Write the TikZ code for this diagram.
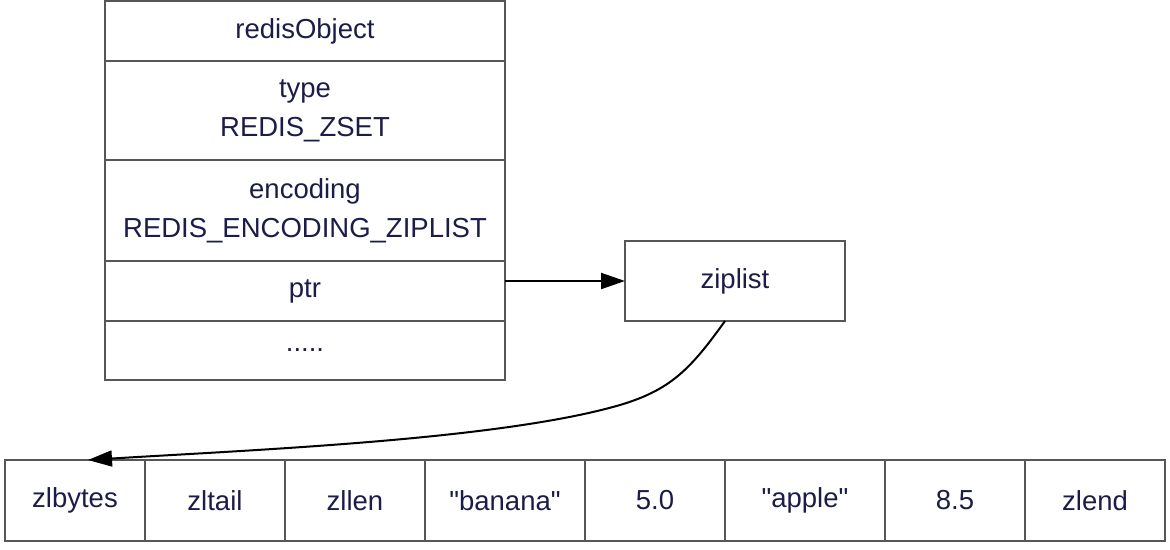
\documentclass[tikz,border=0pt]{standalone}
\usepackage{fontspec}
\setmainfont{Liberation Sans}[Ligatures=TeXOff]
\usetikzlibrary{arrows.meta}
\definecolor{txt}{HTML}{1C1C4A}
\definecolor{ln}{HTML}{565656}
\begin{document}
\begin{tikzpicture}[x=0.5pt,y=-0.5pt,
  cell/.style={draw=ln,line width=1pt,fill=white,text=txt,
    font=\fontsize{13.75}{19.5}\selectfont,align=center,inner sep=0pt,outer sep=0pt},
  obj/.style={cell,minimum width=200pt},
  zc/.style={cell,minimum height=40.5pt,minimum width=70pt},
  zw/.style={cell,minimum height=40.5pt,minimum width=80pt},
  link/.style={draw=black,line width=1pt,-{Triangle[length=12pt,width=8pt]}}]
\useasboundingbox (0,0) rectangle (1170,550);
% redisObject table
\node[obj,minimum height=30pt] (head) at (305,31) {redisObject};
\node[obj,minimum height=49.5pt] (type) at (305,110.5) {type\\REDIS\_ZSET};
\node[obj,minimum height=50.5pt] (enc) at (305,210.5) {encoding\\REDIS\_ENCODING\_ZIPLIST};
\node[obj,minimum height=30pt] (ptr) at (305,291) {ptr};
\node[obj,minimum height=29.5pt] (more) at (305,350.5) {.....};
% ziplist node
\node[cell,minimum width=110pt,minimum height=40pt] (zl) at (735,281) {ziplist};
% ziplist entries
\node[zc] (b1) at (75,500.5) {zlbytes};
\node[zc] (b2) at (215,500.5) {zltail};
\node[zc] (b3) at (355,500.5) {zllen};
\node[zw] (b4) at (505,500.5) {"banana"};
\node[zc] (b5) at (655,500.5) {5.0};
\node[zw] (b6) at (805,500.5) {"apple"};
\node[zc] (b7) at (955,500.5) {8.5};
\node[zc] (b8) at (1095,500.5) {zlend};
% connectors
\draw[link] (zl.west -| ptr.east) -- (zl.west);
\draw[link] ([xshift=-5pt]zl.south) .. controls (690,370) and (670,390) .. (620,405)
  .. controls (500,440) and (250,450) .. ([xshift=6.5pt]b1.north);
\end{tikzpicture}
\end{document}
